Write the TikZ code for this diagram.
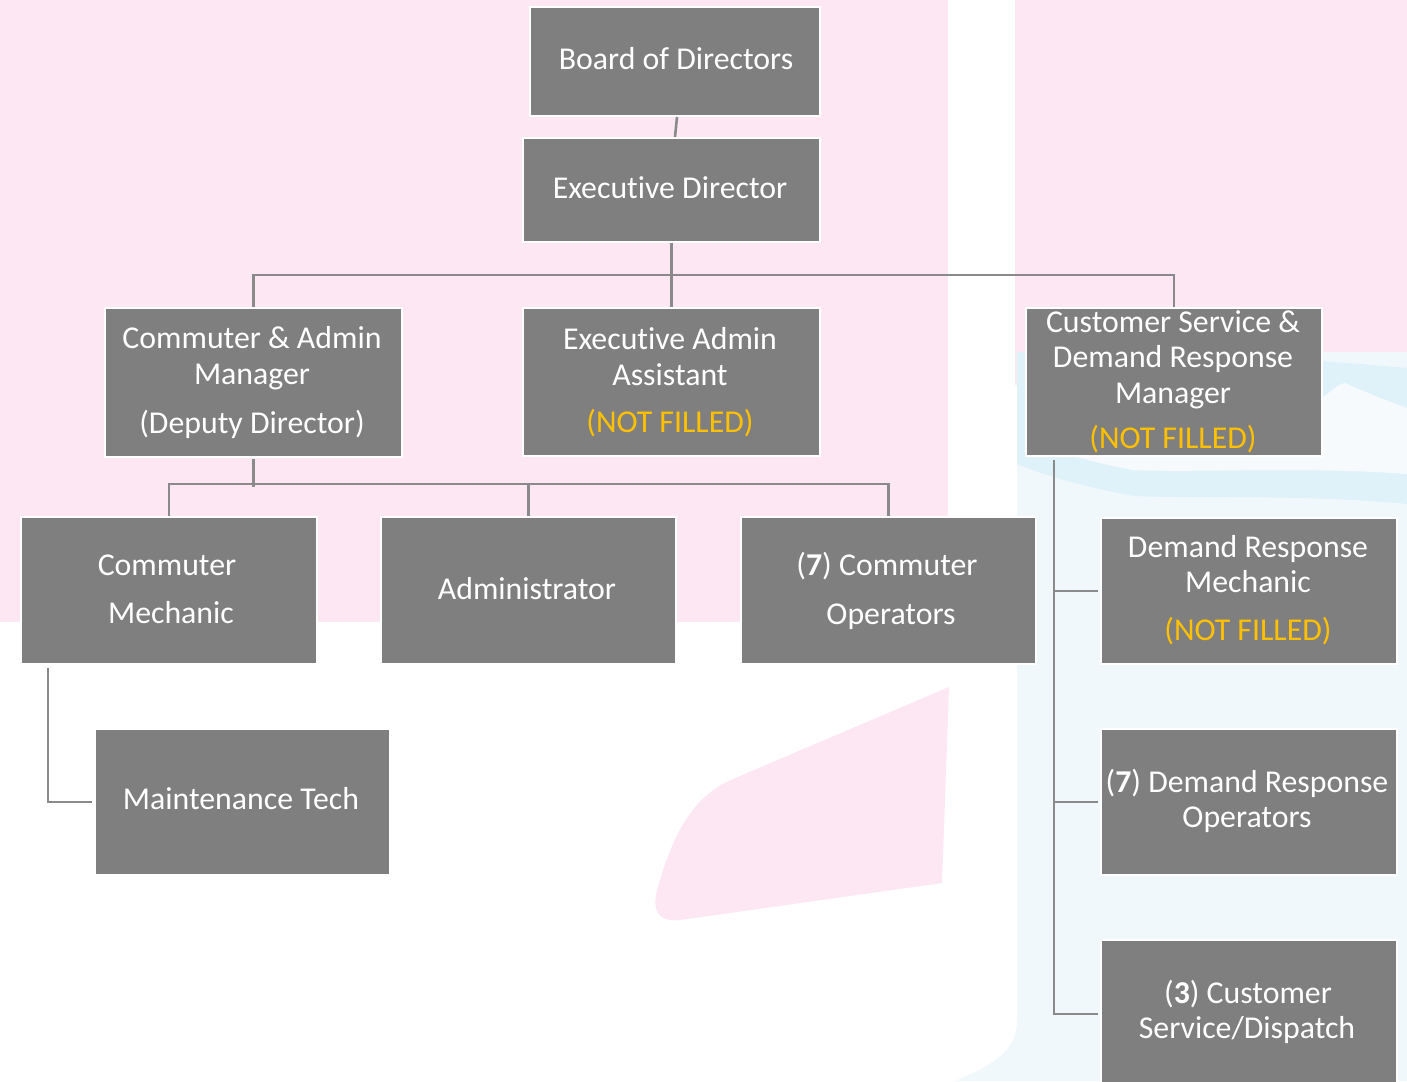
\documentclass[tikz,border=0pt]{standalone}
\usepackage{fontspec}
\setmainfont{Carlito}[Ligatures=NoCommon]
\definecolor{bgpink}{HTML}{FCE7F3}
\definecolor{bgblue}{HTML}{F1F8FC}
\definecolor{bandblue}{HTML}{E0F2F9}
\definecolor{paleblue}{HTML}{F6FAFD}
\definecolor{boxgray}{HTML}{7F7F7F}
\definecolor{linegray}{HTML}{8A8A8A}
\definecolor{nfyellow}{HTML}{FFC000}
\tikzset{
  box/.style={fill=boxgray, draw=white, line width=2pt, inner sep=0pt, anchor=north west},
  txt/.style={text=white, font=\fontsize{31.8}{35}\selectfont, inner sep=0pt, anchor=base},
  nf/.style={txt, text=nfyellow},
  conn/.style={draw=linegray, line width=2.6pt},
}
\begin{document}
\begin{tikzpicture}[x=1pt,y=-1pt]
\clip (0,0) rectangle (1407,1081);
% ---------- background ----------
\fill[white] (0,0) rectangle (1407,1081);
\fill[bgpink] (0,0) rectangle (948,622);
\fill[bgpink] (1015,0) rectangle (1407,385);
\fill[bgblue] (1017,352) -- (1407,352) -- (1407,1081) -- (955,1081)
  .. controls (1000,1062) and (1017,1048) .. (1017,1020) -- cycle;
\fill[bandblue] (1017,352) .. controls (1150,350) and (1300,358) .. (1407,368)
  -- (1407,504) .. controls (1300,494) and (1200,499) .. (1133,496)
  .. controls (1080,486) and (1040,474) .. (1017,464) -- cycle;
\fill[paleblue] (1027,400) -- (1320,400) .. controls (1330,392) and (1338,384) .. (1345,383)
  .. controls (1365,392) and (1390,402) .. (1407,408)
  -- (1407,474) .. controls (1300,466) and (1200,473) .. (1133,470)
  .. controls (1080,460) and (1045,448) .. (1027,438) -- cycle;
\fill[bgpink] (949,687) -- (942,883) -- (680,920)
  .. controls (652,923) and (652,903) .. (660,880)
  .. controls (675,830) and (695,795) .. (733,779) -- cycle;
% ---------- boxes ----------
\node[box, minimum width=290pt, minimum height=109pt] (bod) at (529,6) {};
\node[box, minimum width=297pt, minimum height=104pt] (ed) at (522,137) {};
\node[box, minimum width=297pt, minimum height=149pt] (cam) at (104,307) {};
\node[box, minimum width=297pt, minimum height=148pt] (eaa) at (522,307) {};
\node[box, minimum width=296pt, minimum height=148pt] (csm) at (1025,307) {};
\node[box, minimum width=296pt, minimum height=147pt] (cm) at (20,516) {};
\node[box, minimum width=295pt, minimum height=147pt] (adm) at (380,516) {};
\node[box, minimum width=295pt, minimum height=147pt] (co) at (740,516) {};
\node[box, minimum width=295pt, minimum height=146pt] (mt) at (94,728) {};
\node[box, minimum width=296pt, minimum height=146pt] (drm) at (1100,517) {};
\node[box, minimum width=296pt, minimum height=146pt] (dro) at (1100,728) {};
\node[box, minimum width=296pt, minimum height=148pt] (csd) at (1100,939) {};
% ---------- connectors ----------
\draw[conn] ([xshift=2pt]bod.south) -- ([xshift=3.5pt]ed.north);
\draw[conn] (ed.south) -- (eaa.north);
\draw[conn] (cam.north) -- ++(0,-32) -| (csm.north);
\draw[conn] ([yshift=-1pt]cam.south) -- ++(0,28);
\draw[conn] (cm.north) -- ++(0,-32) -| (co.north);
\draw[conn] (adm.north) -- ++(0,-32);
\draw[conn] ([xshift=28pt,yshift=-3pt]cm.south west) |- ([xshift=-2pt]mt.west);
\coordinate (spine) at ([xshift=29pt,yshift=-3pt]csm.south west);
\draw[conn] (spine) |- ([xshift=-2pt]csd.west);
\draw[conn] ([xshift=-2pt]drm.west) -- (drm.west -| spine);
\draw[conn] ([xshift=-2pt]dro.west) -- (dro.west -| spine);
% ---------- texts ----------
\node[txt] (bod1) at (676,70) {Board of Directors};
\node[txt] (ed1) at (670,198) {Executive Director};
\node[txt] (cam1) at (252,348) {Commuter \& Admin};
\node[txt] (cam2) at (252,384) {Manager};
\node[txt] (cam3) at (252,433) {(Deputy Director)};
\node[txt] (eaa1) at (670,349) {Executive Admin};
\node[txt] (eaa2) at (670,385) {Assistant};
\node[nf]  (eaa3) at (670,432) {(NOT FILLED)};
\node[txt] (csm1) at (1173,332) {Customer Service \&};
\node[txt] (csm2) at (1173,367) {Demand Response};
\node[txt] (csm3) at (1173,403) {Manager};
\node[nf]  (csm4) at (1173,448) {(NOT FILLED)};
\node[txt] (cm1) at (167,575) {Commuter};
\node[txt] (cm2) at (171,623) {Mechanic};
\node[txt] (adm1) at (527,599) {Administrator};
\node[txt] (co1) at (887,575) {(\textbf{7}) Commuter};
\node[txt] (co2) at (891,624) {Operators};
\node[txt] (mt1) at (241,809) {Maintenance Tech};
\node[txt] (drm1) at (1248,557) {Demand Response};
\node[txt] (drm2) at (1248,592) {Mechanic};
\node[nf]  (drm3) at (1248,640) {(NOT FILLED)};
\node[txt] (dro1) at (1247,792) {(\textbf{7}) Demand Response};
\node[txt] (dro2) at (1247,827) {Operators};
\node[txt] (csd1) at (1248,1003) {(\textbf{3}) Customer};
\node[txt] (csd2) at (1247,1038) {Service/Dispatch};
\end{tikzpicture}
\end{document}
